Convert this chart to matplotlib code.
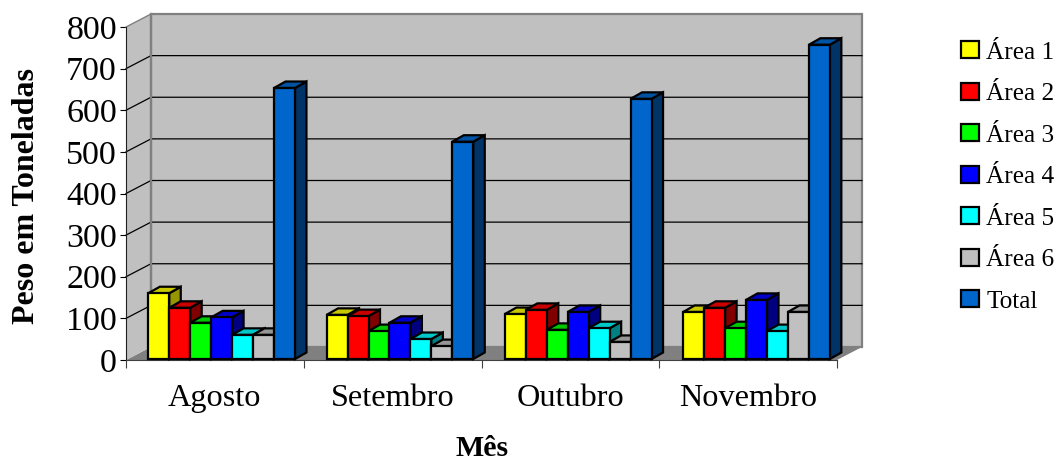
import matplotlib
matplotlib.use('Agg')
import matplotlib.pyplot as plt
from matplotlib.patches import Patch

plt.rcParams['font.family'] = ['Liberation Serif', 'DejaVu Serif']

# Data
months = ['Agosto', 'Setembro', 'Outubro', 'Novembro']
area1 = [158, 106, 108, 113]
area2 = [123, 103, 118, 123]
area3 = [87, 67, 70, 74]
area4 = [100, 87, 113, 142]
area5 = [58, 48, 74, 67]
area6 = [58, 31, 41, 113]
total = [651, 522, 625, 755]
yticks = [0, 100, 200, 300, 400, 500, 600, 700, 800]

series = [area1, area2, area3, area4, area5, area6, total]
names = ['Área 1', 'Área 2', 'Área 3', 'Área 4', 'Área 5', 'Área 6', 'Total']
# front, top, side colours for each series
front = ['#ffff00', '#ff0000', '#00ff00', '#0000ff', '#00ffff', '#c0c0c0', '#0066cc']
top = ['#c8c800', '#c80000', '#00c800', '#0000c8', '#00c8c8', '#969696', '#0052a3']
side = ['#969600', '#800000', '#008000', '#000080', '#008080', '#808080', '#003366']

W, H = 1058, 462
fig = plt.figure(figsize=(W / 100, H / 100), dpi=100)
# axes box is the front plane of the 3D chart
ax_l, ax_r, ax_t, ax_b = 126, 837, 27, 360
ax = fig.add_axes([ax_l / W, 1 - ax_b / H, (ax_r - ax_l) / W, (ax_b - ax_t) / H])
ax.set_xlim(0, 4)
ax.set_ylim(0, 800)
ax.patch.set_visible(False)

ux = 4 / (ax_r - ax_l)    # x units per pixel
uy = 800 / (ax_b - ax_t)  # y units per pixel
wall_dx, wall_dy = 25 * ux, 13 * uy
bar_dx, bar_dy = 11.5 * ux, 6.5 * uy
GRAY = '#808080'
WALL = '#c0c0c0'

# floor, side wall and back wall
ax.fill([0, wall_dx, 4 + wall_dx, 4], [0, wall_dy, wall_dy, 0], color=GRAY, lw=0, zorder=1, clip_on=False)
ax.fill([0, wall_dx, wall_dx, 0], [0, wall_dy, 800 + wall_dy, 800], color=WALL, lw=0, zorder=1, clip_on=False)
ax.fill([wall_dx, 4 + wall_dx, 4 + wall_dx, wall_dx],
        [wall_dy, wall_dy, 800 + wall_dy, 800 + wall_dy],
        facecolor=WALL, edgecolor=GRAY, lw=1.6, zorder=1, clip_on=False)

# gridlines along side wall and back wall, the top one is the wall edge
for v in yticks[1:-1]:
    ax.plot([0, wall_dx, 4 + wall_dx], [v, v + wall_dy, v + wall_dy], color='black', lw=0.9,
            zorder=2, clip_on=False)
ax.plot([wall_dx, wall_dx], [wall_dy, 800 + wall_dy], color=GRAY, lw=1.6, zorder=2, clip_on=False)
ax.plot([0, wall_dx], [800, 800 + wall_dy], color=GRAY, lw=1, zorder=2, clip_on=False)

# bars, left to right so that each one covers the side of the previous one
bar_w = 20.95 * ux
x0 = 22.3 * ux
y0 = 1 * uy
z = 3
for i in range(4):
    for s in range(7):
        h = series[s][i]
        x1 = i * (178.3 * ux) + x0 + s * bar_w
        x2 = x1 + bar_w
        y1, y2 = y0, y0 + h
        edge = dict(edgecolor='black', lw=1.6, joinstyle='miter', clip_on=False, zorder=z)
        ax.fill([x2, x2 + bar_dx, x2 + bar_dx, x2], [y1, y1 + bar_dy, y2 + bar_dy, y2], facecolor=side[s], **edge)
        ax.fill([x1, x1 + bar_dx, x2 + bar_dx, x2], [y2, y2 + bar_dy, y2 + bar_dy, y2], facecolor=top[s], **edge)
        ax.fill([x1, x2, x2, x1], [y1, y1, y2, y2], facecolor=front[s], **edge)
        z += 1

# axes
for sp in ['top', 'right']:
    ax.spines[sp].set_visible(False)
ax.spines['left'].set_color('#202020')
ax.spines['bottom'].set_color('#404040')
ax.spines['left'].set_zorder(2)
ax.spines['bottom'].set_zorder(2)
ax.set_yticks(yticks)
ax.tick_params(axis='y', labelsize=24.5, length=4.5, width=0.8, pad=2)
ax.set_xticks([0, 1, 2, 3, 4])
ax.set_xticklabels([])
ax.set_xticks([0.5, 1.5, 2.5, 3.5], labels=months, minor=True)
ax.tick_params(axis='x', which='major', length=6, width=0.8, color='#404040')
ax.tick_params(axis='x', which='minor', length=0, labelsize=23.2, pad=17)

ax.set_ylabel('Peso em Toneladas', fontsize=23, fontweight='bold', va='center')
ax.yaxis.set_label_coords((27 - ax_l) / (ax_r - ax_l), (ax_b - 196) / (ax_b - ax_t))
ax.set_xlabel('Mês', fontsize=21.5, fontweight='bold', va='center')
ax.xaxis.set_label_coords((482 - ax_l) / (ax_r - ax_l), (ax_b - 448) / (ax_b - ax_t))

# legend
handles = [Patch(facecolor=front[k], edgecolor='black', lw=1.6, label=names[k]) for k in range(7)]
fig.legend(handles=handles, loc='upper left', bbox_to_anchor=(961 / W, 1 - 41 / H), frameon=False,
           fontsize=18.2, handlelength=0.72, handleheight=0.68, handletextpad=0.28, labelspacing=0.75,
           borderpad=0, borderaxespad=0)

plt.savefig('out.png', dpi=100)
